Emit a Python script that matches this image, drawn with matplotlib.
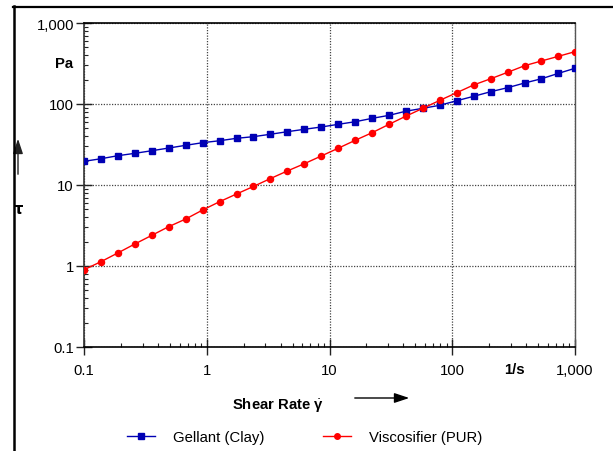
import numpy as np
import matplotlib; matplotlib.use("Agg")
import matplotlib.pyplot as plt
from matplotlib.ticker import FixedLocator, LogLocator, NullFormatter, FuncFormatter
from matplotlib.lines import Line2D

plt.rcParams["font.family"] = ["Liberation Sans", "DejaVu Sans"]
plt.rcParams["mathtext.fontset"] = "custom"
plt.rcParams["mathtext.rm"] = "Liberation Sans"
plt.rcParams["mathtext.it"] = "Liberation Sans:bold"
plt.rcParams["mathtext.bf"] = "Liberation Sans:bold"

# ── Data ──────────────────────────────────────────────────────────────
shear_rate = [0.1, 0.1374, 0.1888, 0.2595, 0.3566, 0.49, 0.6734, 0.9253,
              1.2715, 1.7473, 2.401, 3.299, 4.534, 6.23, 8.561, 11.76,
              16.17, 22.22, 30.53, 41.95, 57.65, 79.22, 108.9, 149.6,
              205.6, 282.5, 388.2, 533.4, 733.0, 1000.0]
gellant = [19.6, 21.1, 23.0, 24.6, 26.5, 28.6, 30.9, 33.3, 35.2, 37.7,
           39.5, 42.3, 45.5, 48.7, 52.0, 56.1, 60.4, 66.5, 72.4, 81.5,
           88.5, 96.4, 109.8, 124.5, 141.8, 159, 181.6, 205, 239, 276]
viscosifier = [0.90, 1.13, 1.45, 1.87, 2.39, 3.06, 3.80, 4.91, 6.22, 7.74,
               9.6, 12.0, 14.9, 18.3, 22.8, 28.4, 35.6, 44.2, 56.1, 70.8,
               88.5, 111, 138, 172, 205, 246, 297, 340, 388, 443]
labels = ["Gellant (Clay)", "Viscosifier (PUR)"]
x_ticks = [0.1, 1, 10, 100, 1000]
y_ticks = [0.1, 1, 10, 100, 1000]

W, H = 613, 452
def fx(px): return px / W
def fy(py): return 1 - py / H

FS = 10.7

fig = plt.figure(figsize=(W / 100, H / 100), dpi=100)
fig.patch.set_facecolor("white")
ax = fig.add_axes([fx(84), fy(348), fx(575) - fx(84), fy(24) - fy(348)])

BLUE = "#0000b4"
RED = "#ff0000"
ax.plot(shear_rate, gellant, color=BLUE, lw=1.0, marker="s", ms=4.6,
        mec=BLUE, mfc=BLUE, zorder=4)
ax.plot(shear_rate, viscosifier, color=RED, lw=1.0, marker="o", ms=4.4,
        mec=RED, mfc=RED, zorder=5)

ax.set_xscale("log")
ax.set_yscale("log")
ax.set_xlim(0.1, 1000)
ax.set_ylim(0.1, 1000)

fmt = FuncFormatter(lambda v, p: f"{v:,.0f}" if v >= 1 else f"{v:g}")
for axis, ticks in ((ax.xaxis, x_ticks), (ax.yaxis, y_ticks)):
    axis.set_major_locator(FixedLocator(ticks))
    axis.set_minor_locator(LogLocator(base=10, subs=np.arange(2, 10)))
    axis.set_major_formatter(fmt)
    axis.set_minor_formatter(NullFormatter())

ax.tick_params(which="major", direction="inout", length=12, width=1.0,
               color="#222222", labelsize=FS)
ax.tick_params(which="minor", direction="in", length=3, width=0.8,
               color="#222222")
ax.tick_params(axis="y", which="major", pad=1.2)
ax.tick_params(axis="x", which="major", pad=5.5)

ax.grid(True, which="major", color="#444444", ls=(0, (1, 1.2)), lw=0.9)
for side in ("top", "bottom"):
    ax.spines[side].set_color("black")
    ax.spines[side].set_linewidth(1.2)
ax.spines["left"].set_color("#333333")
ax.spines["right"].set_color("#555555")
ax.spines["left"].set_linewidth(1.2)
ax.spines["right"].set_linewidth(1.0)

# ── Axis annotations ──────────────────────────────────────────────────
fig.text(fx(64), fy(64), "Pa", fontsize=FS, fontweight="bold",
         ha="center", va="center")
fig.text(fx(514), fy(370), "1/s", fontsize=FS, fontweight="bold",
         ha="center", va="center")
fig.text(fx(278), fy(405), r"Shear Rate $\dot{\mathbf{\gamma}}$", fontsize=FS,
         fontweight="bold", ha="center", va="center")
fig.text(fx(18.5), fy(210), "τ", fontsize=FS, fontweight="bold",
         ha="center", va="center", family=["DejaVu Sans"])
ax.annotate("", xy=(fx(412), fy(399)), xytext=(fx(352), fy(399)),
            xycoords="figure fraction",
            arrowprops=dict(arrowstyle="-|>,head_length=0.9,head_width=0.3",
                            color="black", lw=1.0))
ax.annotate("", xy=(fx(18), fy(137)), xytext=(fx(18), fy(178)),
            xycoords="figure fraction",
            arrowprops=dict(arrowstyle="-|>,head_length=0.9,head_width=0.3",
                            color="#222222", lw=1.0))

# ── Frame lines ───────────────────────────────────────────────────────
fig.add_artist(Line2D([fx(13.5), fx(13.5)], [fy(7), 0], color="black", lw=1.8))
fig.add_artist(Line2D([fx(12.5), 1], [fy(7.5), fy(7.5)], color="black", lw=1.6))

# ── Legend ────────────────────────────────────────────────────────────
handles = [
    Line2D([], [], color=BLUE, lw=1.0, marker="s", ms=4.2, mfc=BLUE, mec=BLUE),
    Line2D([], [], color=RED, lw=1.0, marker="o", ms=4.0, mfc=RED, mec=RED),
]
fig.legend(handles, labels, loc="center left",
           bbox_to_anchor=(fx(127), fy(438)), ncol=2, frameon=False,
           fontsize=FS, handlelength=1.9, handletextpad=1.2,
           columnspacing=3.95, borderpad=0, borderaxespad=0)

fig.savefig("out.png", dpi=100, facecolor="white")
plt.close(fig)
